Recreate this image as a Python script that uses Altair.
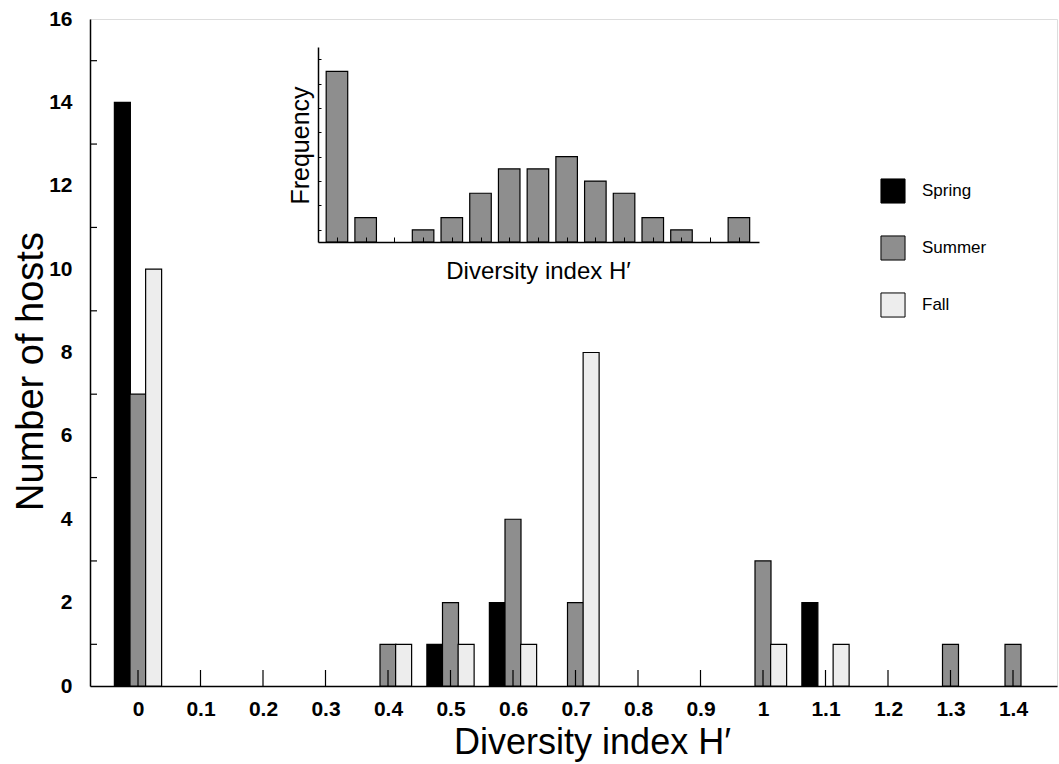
import altair as alt
import pandas as pd

# ---------------- data ----------------
bins = [0.0, 0.1, 0.2, 0.3, 0.4, 0.5, 0.6, 0.7, 0.8, 0.9, 1.0, 1.1, 1.2, 1.3, 1.4]
spring = [14, 0, 0, 0, 0, 1, 2, 0, 0, 0, 0, 2, 0, 0, 0]
summer = [7, 0, 0, 0, 1, 2, 4, 2, 0, 0, 3, 0, 0, 1, 1]
fall = [10, 0, 0, 0, 1, 1, 1, 8, 0, 0, 1, 1, 0, 0, 0]
seasons = ["Spring", "Summer", "Fall"]
season_colors = ["#000000", "#8e8e8e", "#ededed"]

y_labels = [0, 2, 4, 6, 8, 10, 12, 14, 16]
y_minor = [1, 3, 5, 7, 9, 11, 13, 15]

inset_slots = list(range(15))
inset_freq = [14, 2, 0, 1, 2, 4, 6, 6, 7, 5, 4, 2, 1, 0, 2]
inset_minor = [1, 3, 5, 7, 9, 11, 13, 15]

# ---------------- tables ----------------
rows = []
for s, vals in zip(seasons, [spring, summer, fall]):
    for b, v in zip(bins, vals):
        rows.append({"bin": b, "season": s, "count": v})
df = pd.DataFrame(rows)
df_ymin = pd.DataFrame({"count": y_minor})
df_xt = pd.DataFrame({"x0": bins})
df_in = pd.DataFrame({"slot": inset_slots, "freq": inset_freq})

W, H = 967, 667
TOP = 19
FONT = "Liberation Sans"

xscale = alt.Scale(domain=[-0.0768, 1.4704], nice=False, zero=False)
yscale = alt.Scale(domain=[0, 16], nice=False)

x_axis = alt.Axis(
    values=bins, format=".1~f", ticks=False, grid=False,
    labelFontSize=21, labelFontWeight="bold", labelPadding=12,
    labelColor="black", domainColor="black", domainWidth=1.5,
    title="Diversity index H\u2032", titleFontSize=36, titleFontWeight="normal",
    titleX=502, titleY=39, titleColor="black",
)
y_axis = alt.Axis(
    values=y_labels, ticks=False, grid=False,
    labelFontSize=21, labelFontWeight="bold", labelPadding=18,
    labelColor="black", domainColor="black", domainWidth=1.5,
    title="Number of hosts", titleFontSize=38, titleFontWeight="normal",
    titleAngle=270, titleBaseline="alphabetic", titleX=-48, titleY=352,
    titleColor="black",
)

bars = (
    alt.Chart(df)
    .transform_filter("datum.count > 0")
    .transform_calculate(
        off="datum.season == 'Spring' ? -0.025 : (datum.season == 'Fall' ? 0.025 : 0)"
    )
    .transform_calculate(x0="datum.bin + datum.off - 0.0128", x1="datum.bin + datum.off + 0.0128")
    .mark_bar(stroke="black", strokeWidth=1.2)
    .encode(
        x=alt.X("x0:Q", scale=xscale, axis=x_axis),
        x2="x1:Q",
        y=alt.Y("count:Q", scale=yscale, axis=y_axis),
        y2=alt.datum(0),
        color=alt.Color(
            "season:N",
            scale=alt.Scale(domain=seasons, range=season_colors),
            legend=alt.Legend(
                title=None, orient="none", legendX=790, legendY=159,
                symbolType="square", symbolSize=580, symbolStrokeColor="black",
                symbolStrokeWidth=1, labelFontSize=17, labelOffset=16,
                rowPadding=27, labelColor="black",
            ),
        ),
    )
)

yticks = (
    alt.Chart(df_ymin)
    .mark_rule(color="black", strokeWidth=1.2)
    .encode(y=alt.Y("count:Q", scale=yscale, axis=y_axis), x=alt.value(0), x2=alt.value(7))
)

xticks = (
    alt.Chart(df_xt)
    .mark_rule(color="black", strokeWidth=1.2)
    .encode(x=alt.X("x0:Q", scale=xscale, axis=x_axis), y=alt.value(H), y2=alt.value(H - 16))
)

main = alt.layer(bars, xticks, yticks)

inset = (
    alt.Chart(df_in)
    .transform_filter("datum.freq > 0")
    .transform_calculate(lo="datum.slot - 0.375", hi="datum.slot + 0.375")
    .mark_bar(color="#8e8e8e", stroke="black", strokeWidth=1.2)
    .encode(
        x=alt.X(
            "lo:Q",
            scale=alt.Scale(domain=[-0.66, 14.7], range=[228, 669], nice=False, zero=False),
            axis=alt.Axis(
                orient="top", offset=-223, values=inset_slots, labels=False,
                tickSize=5, tickColor="black", grid=False, domainColor="black",
                domainWidth=1.5, zindex=1,
                title="Diversity index H\u2032", titleFontSize=24, titleFontWeight="normal",
                titleBaseline="alphabetic", titleX=448, titleY=36, titleColor="black",
            ),
        ),
        x2="hi:Q",
        y=alt.Y(
            "freq:Q",
            scale=alt.Scale(domain=[0, 16], range=[223, 28], nice=False),
            axis=alt.Axis(
                orient="right", offset=-739, values=inset_minor, labels=False,
                tickSize=3, tickColor="black", grid=False, domainColor="black",
                domainWidth=1.5,
                title="Frequency", titleFontSize=25, titleFontWeight="normal",
                titleAngle=270, titleBaseline="alphabetic", titleX=-10, titleY=126,
                titleColor="black",
            ),
        ),
        y2=alt.datum(0),
    )
)

chart = (
    alt.layer(main, inset)
    .resolve_scale(x="independent", y="independent")
    .properties(
        width=W, height=H,
        autosize=alt.AutoSizeParams(type="none"),
        padding={"left": 90, "top": TOP, "right": 2, "bottom": 764 - TOP - H},
    )
    .configure_view(strokeWidth=0, stroke="transparent")
    .configure(font=FONT)
)

chart.save("out.html", embed_options={"renderer": "svg", "actions": False})
